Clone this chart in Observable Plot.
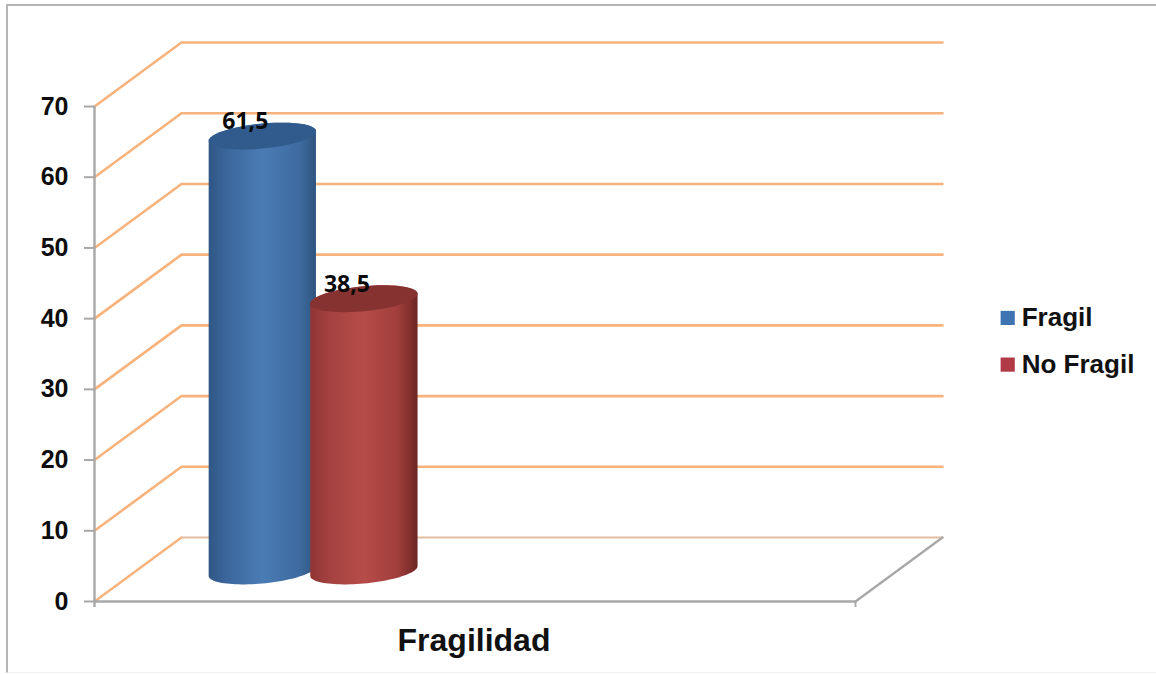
<!DOCTYPE html>
<html>
<head>
<meta charset="utf-8">
<script src="https://cdn.jsdelivr.net/npm/d3@7"></script>
<script src="https://cdn.jsdelivr.net/npm/@observablehq/plot@0.6"></script>
<style>
  html, body { margin: 0; padding: 0; background: #fff; }
  #chart { position: relative; width: 1156px; height: 674px; overflow: hidden; }
  #chart svg { display: block; }
  #frame { position: absolute; left: 6px; top: 4px; width: 1160px; height: 669px;
           border-left: 2px solid #b5b5b5; border-top: 2px solid #b5b5b5; border-bottom: 1px solid #efefef;
           box-sizing: border-box; pointer-events: none; }
</style>
</head>
<body>
<div id="chart"><div id="frame"></div></div>
<script>
// Survey result: share of respondents per frailty class.
const seriesNames = ["Fragil", "No Fragil"];
const seriesValues = [61.5, 38.5];
const seriesCenters = [0.166, 0.2995];  // floor position of each cylinder, 0..1 across the front edge
const seriesDepth = 0.477;              // how far back the cylinders stand on the floor
const categoryLabel = "Fragilidad";
const gridValues = [0, 10, 20, 30, 40, 50, 60, 70];

// Oblique projection: moving one unit into the depth shifts right and up in data units.
const depthX = 0.1143;
const depthY = 9.05;
const project = (x, v, d) => ({x: x + d * depthX, y: v + d * depthY});

// Ellipse radii of a cylinder section, in data units, with a slight shear.
const radiusX = 0.0705;
const radiusY = 1.77;
const shear = 0.69;
const ellipsePoint = (cx, v, t) => ({
  x: cx + radiusX * Math.cos(t),
  y: v + shear * Math.cos(t) + radiusY * Math.sin(t)
});
const arc = (cx, v, from, to, n = 48) =>
  d3.range(n + 1).map((i) => ellipsePoint(cx, v, from + (to - from) * i / n));

function cylinder(i) {
  const c = project(seriesCenters[i], seriesValues[i], seriesDepth);
  const b = project(seriesCenters[i], 0, seriesDepth);
  return {
    name: seriesNames[i],
    value: seriesValues[i],
    top: c,
    body: [...arc(c.x, c.y, Math.PI, 0), ...arc(b.x, b.y, 0, -Math.PI)],
    cap: arc(c.x, c.y, 0, 2 * Math.PI)
  };
}
const cylinders = seriesNames.map((_, i) => cylinder(i));

const wallLines = gridValues.slice(1).map((v) => [project(0, v, 0), project(0, v, 1), project(1, v, 1)]);
const floorLeft = [project(0, 0, 0), project(0, 0, 1)];
const floorBack = [project(0, 0, 1), project(1, 0, 1)];
const floorEdge = [project(0, 0, 0), project(1, 0, 0), project(1, 0, 1)];

const legendItems = seriesNames.map((name, i) => ({name, row: i}));
const legendX = 1.2;
const legendY = [40.1, 33.5];

const gradient = (id, stops) => `<linearGradient id="${id}" x1="0" x2="1" y1="0" y2="0">` +
  stops.map(([o, c]) => `<stop offset="${o}" stop-color="${c}"/>`).join("") + `</linearGradient>`;

function defs() {
  const g = document.createElementNS("http://www.w3.org/2000/svg", "g");
  g.innerHTML = "<defs>" +
    gradient("bodyBlue", [[0, "#2f5685"], [0.15, "#3a659a"], [0.5, "#4a7cb4"], [0.85, "#3d6a9f"], [1, "#2f5580"]]) +
    gradient("bodyRed", [[0, "#8f3533"], [0.18, "#a34240"], [0.5, "#b64c49"], [0.82, "#a03e3c"], [1, "#6c2624"]]) +
    "</defs>";
  return g;
}

const orange = "#f8b27c";
const axisGray = "#a8a8a8";
const sans = "'Liberation Sans', Arial, sans-serif";

const chart = Plot.plot({
  width: 1156,
  height: 674,
  marginLeft: 94,
  marginRight: 301,
  marginTop: 106,
  marginBottom: 73,
  style: {background: "transparent", overflow: "visible"},
  x: {type: "linear", domain: [0, 1], axis: null},
  y: {type: "linear", domain: [0, 70], axis: null},
  marks: [
    defs,
    wallLines.map((line) => Plot.line(line, {x: "x", y: "y", stroke: orange, strokeWidth: 2.6})),
    Plot.line(floorLeft, {x: "x", y: "y", stroke: orange, strokeWidth: 2.4}),
    Plot.line(floorBack, {x: "x", y: "y", stroke: "#e2bd9f", strokeWidth: 2.2}),
    Plot.line(floorEdge, {x: "x", y: "y", stroke: axisGray, strokeWidth: 2.4}),
    // Vertical axis with its outward ticks and bold labels
    Plot.ruleX([0], {y1: 0, y2: 70, stroke: axisGray, strokeWidth: 2.4, insetTop: 6}),
    Plot.axisY(gridValues, {
      anchor: "left", label: null, tickSize: 10, tickPadding: 16, stroke: axisGray, strokeWidth: 2,
      fill: "#0d0d0d", fontSize: 25, fontWeight: 700, fontFamily: sans, tickFormat: (d) => d
    }),
    Plot.ruleX([1], {y1: 0, y2: 0, stroke: axisGray, strokeWidth: 2, insetTop: 6}),
    // Cylinders: blue first so that the red one overlaps it
    cylinders.map((c, i) => [
      Plot.line(c.body, {x: "x", y: "y", fill: i ? "url(#bodyRed)" : "url(#bodyBlue)", stroke: "none", curve: "linear"}),
      Plot.line(c.cap, {x: "x", y: "y", fill: i ? "#853230" : "#315b8c", stroke: "none", curve: "linear"})
    ]),
    Plot.text(cylinders, {
      x: (d) => d.top.x, y: (d) => d.top.y, text: (d) => d.value.toFixed(1).replace(".", ","),
      dx: -17, dy: -14, fill: "#0a0a0a", fontSize: 23, fontWeight: 700, fontFamily: "'Open Sans', sans-serif", textAnchor: "middle"
    }),
    // Category label under the floor
    Plot.text([categoryLabel], {
      x: () => 0.5, y: () => 0, text: (d) => d, dy: 39, dx: -1, fill: "#111", fontSize: 32, fontWeight: 700, fontFamily: sans, textAnchor: "middle"
    }),
    // Legend at the right of the plot
    Plot.dot(legendItems, {
      x: () => legendX, y: (d) => legendY[d.row], symbol: "square", r: 8,
      fill: (d) => ["#3f74b3", "#b03a45"][d.row], stroke: "none"
    }),
    Plot.text(legendItems, {
      x: () => legendX, y: (d) => legendY[d.row], text: "name", dx: 14, textAnchor: "start",
      fill: "#111", fontSize: 26, fontWeight: 700, fontFamily: sans
    })
  ]
});
document.getElementById("chart").prepend(chart);
</script>
</body>
</html>
